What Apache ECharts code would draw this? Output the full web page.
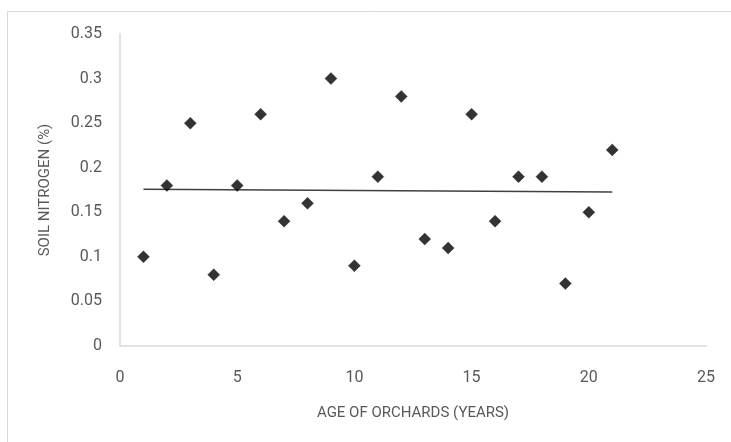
<!DOCTYPE html>
<html>
<head>
<meta charset="utf-8">
<script src="https://cdn.jsdelivr.net/npm/echarts@6/dist/echarts.min.js"></script>
<style>html,body{margin:0;padding:0;background:#fff}#c{width:731px;height:442px}</style>
</head>
<body>
<div id="c"></div>
<script>
const ages = [1,2,3,4,5,6,7,8,9,10,11,12,13,14,15,16,17,18,19,20,21];
const nitrogen = [0.10,0.18,0.25,0.08,0.18,0.26,0.14,0.16,0.30,0.09,0.19,0.28,0.12,0.11,0.26,0.14,0.19,0.19,0.07,0.15,0.22];
const xTitle = 'AGE OF ORCHARDS (YEARS)';
const yTitle = 'SOIL NITROGEN (%)';

// linear trendline (least squares) from the data
const n = ages.length;
const mx = ages.reduce((a,b)=>a+b,0)/n;
const my = nitrogen.reduce((a,b)=>a+b,0)/n;
let sxy=0, sxx=0;
for(let i=0;i<n;i++){sxy+=(ages[i]-mx)*(nitrogen[i]-my);sxx+=(ages[i]-mx)**2;}
const slope = sxy/sxx, icpt = my - slope*mx;
const x0 = ages[0], x1 = ages[n-1];
const trend = [[x0, icpt+slope*x0],[x1, icpt+slope*x1]];

const font = 'Roboto';
const txt = '#595959';
const chart = echarts.init(document.getElementById('c'), null, {renderer:'canvas'});
chart.setOption({
  animation:false,
  backgroundColor:'#fff',
  graphic:[{type:'rect',shape:{x:7.5,y:11.5,width:740,height:440},style:{fill:'none',stroke:'#d9d9d9',lineWidth:1}}],
  grid:{left:120,right:25,top:34,bottom:96,containLabel:false},
  xAxis:{type:'value',min:0,max:25,interval:5,
    name:xTitle,nameLocation:'middle',nameGap:60,
    nameTextStyle:{color:txt,fontFamily:font,fontSize:15},
    axisLine:{show:true,lineStyle:{color:'#d9d9d9',width:1.5}},
    axisTick:{show:false},splitLine:{show:false},
    axisLabel:{color:txt,fontFamily:font,fontSize:16,margin:24}},
  yAxis:{type:'value',min:0,max:0.35,interval:0.05,
    name:yTitle,nameLocation:'middle',nameGap:67,
    nameTextStyle:{color:txt,fontFamily:font,fontSize:15},
    axisLine:{show:true,lineStyle:{color:'#d9d9d9',width:1.5}},
    axisTick:{show:false},splitLine:{show:false},
    axisLabel:{color:txt,fontFamily:font,fontSize:16,margin:18,formatter:v=>String(+v.toFixed(2))}},
  series:[
    {type:'scatter',data:ages.map((a,i)=>[a,nitrogen[i]]),symbol:'diamond',symbolSize:12,
     itemStyle:{color:'#000',borderColor:'#222',borderWidth:0.5},z:3},
    {type:'line',data:trend,showSymbol:false,symbol:'none',lineStyle:{color:'#404040',width:1.5},z:2}
  ]
});
</script>
</body>
</html>
